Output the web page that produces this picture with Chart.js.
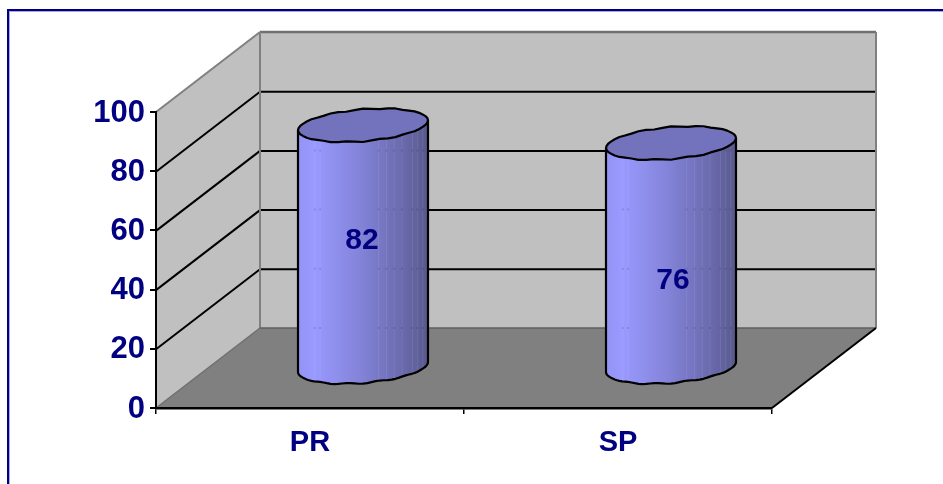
<!DOCTYPE html>
<html>
<head>
<meta charset="utf-8">
<title>PR / SP</title>
<script src="https://cdn.jsdelivr.net/npm/chart.js@4"></script>
<style>
  html, body { margin: 0; padding: 0; background: #fff; overflow: hidden; }
  canvas { display: block; }
</style>
</head>
<body>
<canvas id="myChart" width="943" height="484"></canvas>
<script>
const categories = ["PR", "SP"];
const scores = [82, 76];
const tickLabels = [0, 20, 40, 60, 80, 100];

const NAVY = "#000080";
const FONT = "'Liberation Sans', Arial, sans-serif";
const DEPTH_X = 104;
const DEPTH_Y = 80;
const RX_TILT = 5;
const RY = 16;
// the value labels don't sit at the middle of the cylinders in the original
const labelDrop = [75, 98];
const labelShift = [52, 55];
const facets = [0.13, 0.17, 0.62, 0.68, 0.74, 0.8, 0.88, 0.92, 0.96];

function line(ctx, x1, y1, x2, y2, color, width) {
  ctx.strokeStyle = color;
  ctx.lineWidth = width;
  ctx.beginPath();
  ctx.moveTo(x1, y1);
  ctx.lineTo(x2, y2);
  ctx.stroke();
}

function poly(ctx, pts, color) {
  ctx.fillStyle = color;
  ctx.beginPath();
  pts.forEach((p, i) => i ? ctx.lineTo(p[0], p[1]) : ctx.moveTo(p[0], p[1]));
  ctx.closePath();
  ctx.fill();
}

const walls = {
  id: "walls",
  beforeDraw(chart) {
    const ctx = chart.ctx;
    const { left, right, top, bottom } = chart.chartArea;
    const y = chart.scales.y;

    ctx.save();
    // frame, only top and left are inside the picture
    ctx.fillStyle = "#A8A8E8";
    ctx.fillRect(9, 11, 934, 1);
    ctx.fillRect(9, 11, 1, 473);
    ctx.fillStyle = NAVY;
    ctx.fillRect(7, 9, 936, 2);
    ctx.fillRect(7, 9, 2, 475);

    poly(ctx, [[left, top], [left + DEPTH_X, top - DEPTH_Y], [left + DEPTH_X, bottom - DEPTH_Y], [left, bottom]], "#C0C0C0");
    poly(ctx, [[left + DEPTH_X, top - DEPTH_Y], [right + DEPTH_X, top - DEPTH_Y], [right + DEPTH_X, bottom - DEPTH_Y], [left + DEPTH_X, bottom - DEPTH_Y]], "#C0C0C0");
    poly(ctx, [[left, bottom], [left + DEPTH_X, bottom - DEPTH_Y], [right + DEPTH_X, bottom - DEPTH_Y], [right, bottom]], "#808080");

    tickLabels.slice(1, -1).forEach(v => {
      const py = y.getPixelForValue(v) + 0.5;
      line(ctx, left, py, left + DEPTH_X, py - DEPTH_Y, "#000", 2);
      line(ctx, left + DEPTH_X, py - DEPTH_Y, right + DEPTH_X, py - DEPTH_Y, "#000", 2);
    });

    line(ctx, left, top, left + DEPTH_X, top - DEPTH_Y, "#808080", 2);
    line(ctx, left + DEPTH_X, top - DEPTH_Y, right + DEPTH_X, top - DEPTH_Y, "#707070", 2.5);
    line(ctx, left + DEPTH_X, top - DEPTH_Y, left + DEPTH_X, bottom - DEPTH_Y, "#808080", 2);
    line(ctx, right + DEPTH_X, top - DEPTH_Y, right + DEPTH_X, bottom - DEPTH_Y, "#808080", 2);
    line(ctx, left + DEPTH_X, bottom - DEPTH_Y, right + DEPTH_X, bottom - DEPTH_Y, "#5f5f5f", 1.5);
    line(ctx, left, bottom, left + DEPTH_X, bottom - DEPTH_Y, "#6f6f6f", 1.5);
    line(ctx, right, bottom, right + DEPTH_X, bottom - DEPTH_Y, "#000", 2);
    ctx.restore();
  }
};

// slightly wobbly outline, fading out towards the left and right ends
function rim(cx, cy, rx, from, to) {
  const pts = [];
  const n = 48;
  for (let i = 0; i <= n; i++) {
    const t = from + (to - from) * i / n;
    const s = Math.sin(t);
    const wob = 0.7 * Math.sin(t * 13) * s * s;
    pts.push([cx + rx * Math.cos(t), cy - RX_TILT * Math.cos(t) + RY * s + wob]);
  }
  return pts;
}

const cylinders = {
  id: "cylinders",
  afterDatasetsDraw(chart) {
    const ctx = chart.ctx;
    const y = chart.scales.y;
    const bars = chart.getDatasetMeta(0).data;

    bars.forEach((bar, i) => {
      const cx = bar.x + DEPTH_X / 2 + 1;
      const rx = bar.width / 2;
      const topY = bar.y - DEPTH_Y / 2;
      const baseY = bar.base - DEPTH_Y / 2;

      const grad = ctx.createLinearGradient(cx - rx, 0, cx + rx, 0);
      grad.addColorStop(0, "#9494F4");
      grad.addColorStop(0.12, "#9999FF");
      grad.addColorStop(0.45, "#8585DC");
      grad.addColorStop(0.7, "#7272BC");
      grad.addColorStop(0.9, "#62629F");
      grad.addColorStop(1, "#58588C");

      // body: front half of the base, then back up to the top rim
      const front = rim(cx, baseY, rx, Math.PI, 0);
      const bodyPath = () => {
        ctx.beginPath();
        ctx.moveTo(cx - rx, topY + RX_TILT);
        front.forEach(p => ctx.lineTo(p[0], p[1]));
        ctx.lineTo(cx + rx, topY - RX_TILT);
      };

      ctx.save();
      ctx.lineJoin = "round";

      ctx.save();
      bodyPath();
      ctx.closePath();
      ctx.fillStyle = grad;
      ctx.fill();
      ctx.clip();

      // facets, with the grid showing through a little where they cross
      facets.forEach(f => {
        const fx = cx - rx + f * 2 * rx;
        line(ctx, fx, topY, fx, baseY + 20, "rgba(255,255,255,0.09)", 1);
        tickLabels.slice(0, -1).forEach(v => {
          const py = y.getPixelForValue(v) - DEPTH_Y;
          if (py > topY) line(ctx, fx - 1, py, fx + 1, py, "rgba(0,0,0,0.12)", 2);
        });
      });
      ctx.restore();

      // top
      const cap = rim(cx, topY, rx, 0, Math.PI * 2);
      ctx.beginPath();
      cap.forEach((p, k) => k ? ctx.lineTo(p[0], p[1]) : ctx.moveTo(p[0], p[1]));
      ctx.closePath();
      ctx.fillStyle = "#7373BD";
      ctx.fill();
      ctx.strokeStyle = "#000";
      ctx.lineWidth = 2.2;
      ctx.stroke();

      // outline of the sides and bottom
      bodyPath();
      ctx.stroke();

      ctx.fillStyle = NAVY;
      ctx.font = "bold 30px " + FONT;
      ctx.textAlign = "center";
      ctx.textBaseline = "middle";
      ctx.fillText(String(scores[i]), bar.x + labelShift[i], bar.y + labelDrop[i]);
      ctx.restore();
    });
  }
};

const ctx = document.getElementById("myChart").getContext("2d");
const chart = new Chart(ctx, {
  type: "bar",
  data: {
    labels: categories,
    datasets: [{
      label: "Score",
      data: scores,
      backgroundColor: "rgba(0,0,0,0)",
      categoryPercentage: 1,
      barPercentage: 130 / 308
    }]
  },
  options: {
    responsive: false,
    animation: false,
    layout: { padding: { left: 0, right: 171, top: 112, bottom: 0 } },
    plugins: { legend: { display: false }, tooltip: { enabled: false } },
    scales: {
      x: {
        afterFit: scale => { scale.height = 76; },
        border: { color: "#000", width: 2.5 },
        grid: { drawOnChartArea: false, color: "#000", lineWidth: 1.5, tickLength: 6 },
        ticks: { color: NAVY, padding: 12, font: { family: FONT, size: 29, weight: "bold" } }
      },
      y: {
        min: 0,
        max: 100,
        afterFit: scale => { scale.width = 156; },
        afterBuildTicks: scale => { scale.ticks = tickLabels.map(v => ({ value: v })); },
        border: { color: "#000", width: 2 },
        grid: { drawOnChartArea: false, color: "#000", lineWidth: 2, tickLength: 6 },
        ticks: { color: NAVY, padding: 5, labelOffset: 1, font: { family: FONT, size: 31, weight: "bold" } }
      }
    }
  },
  plugins: [walls, cylinders]
});
</script>
</body>
</html>
